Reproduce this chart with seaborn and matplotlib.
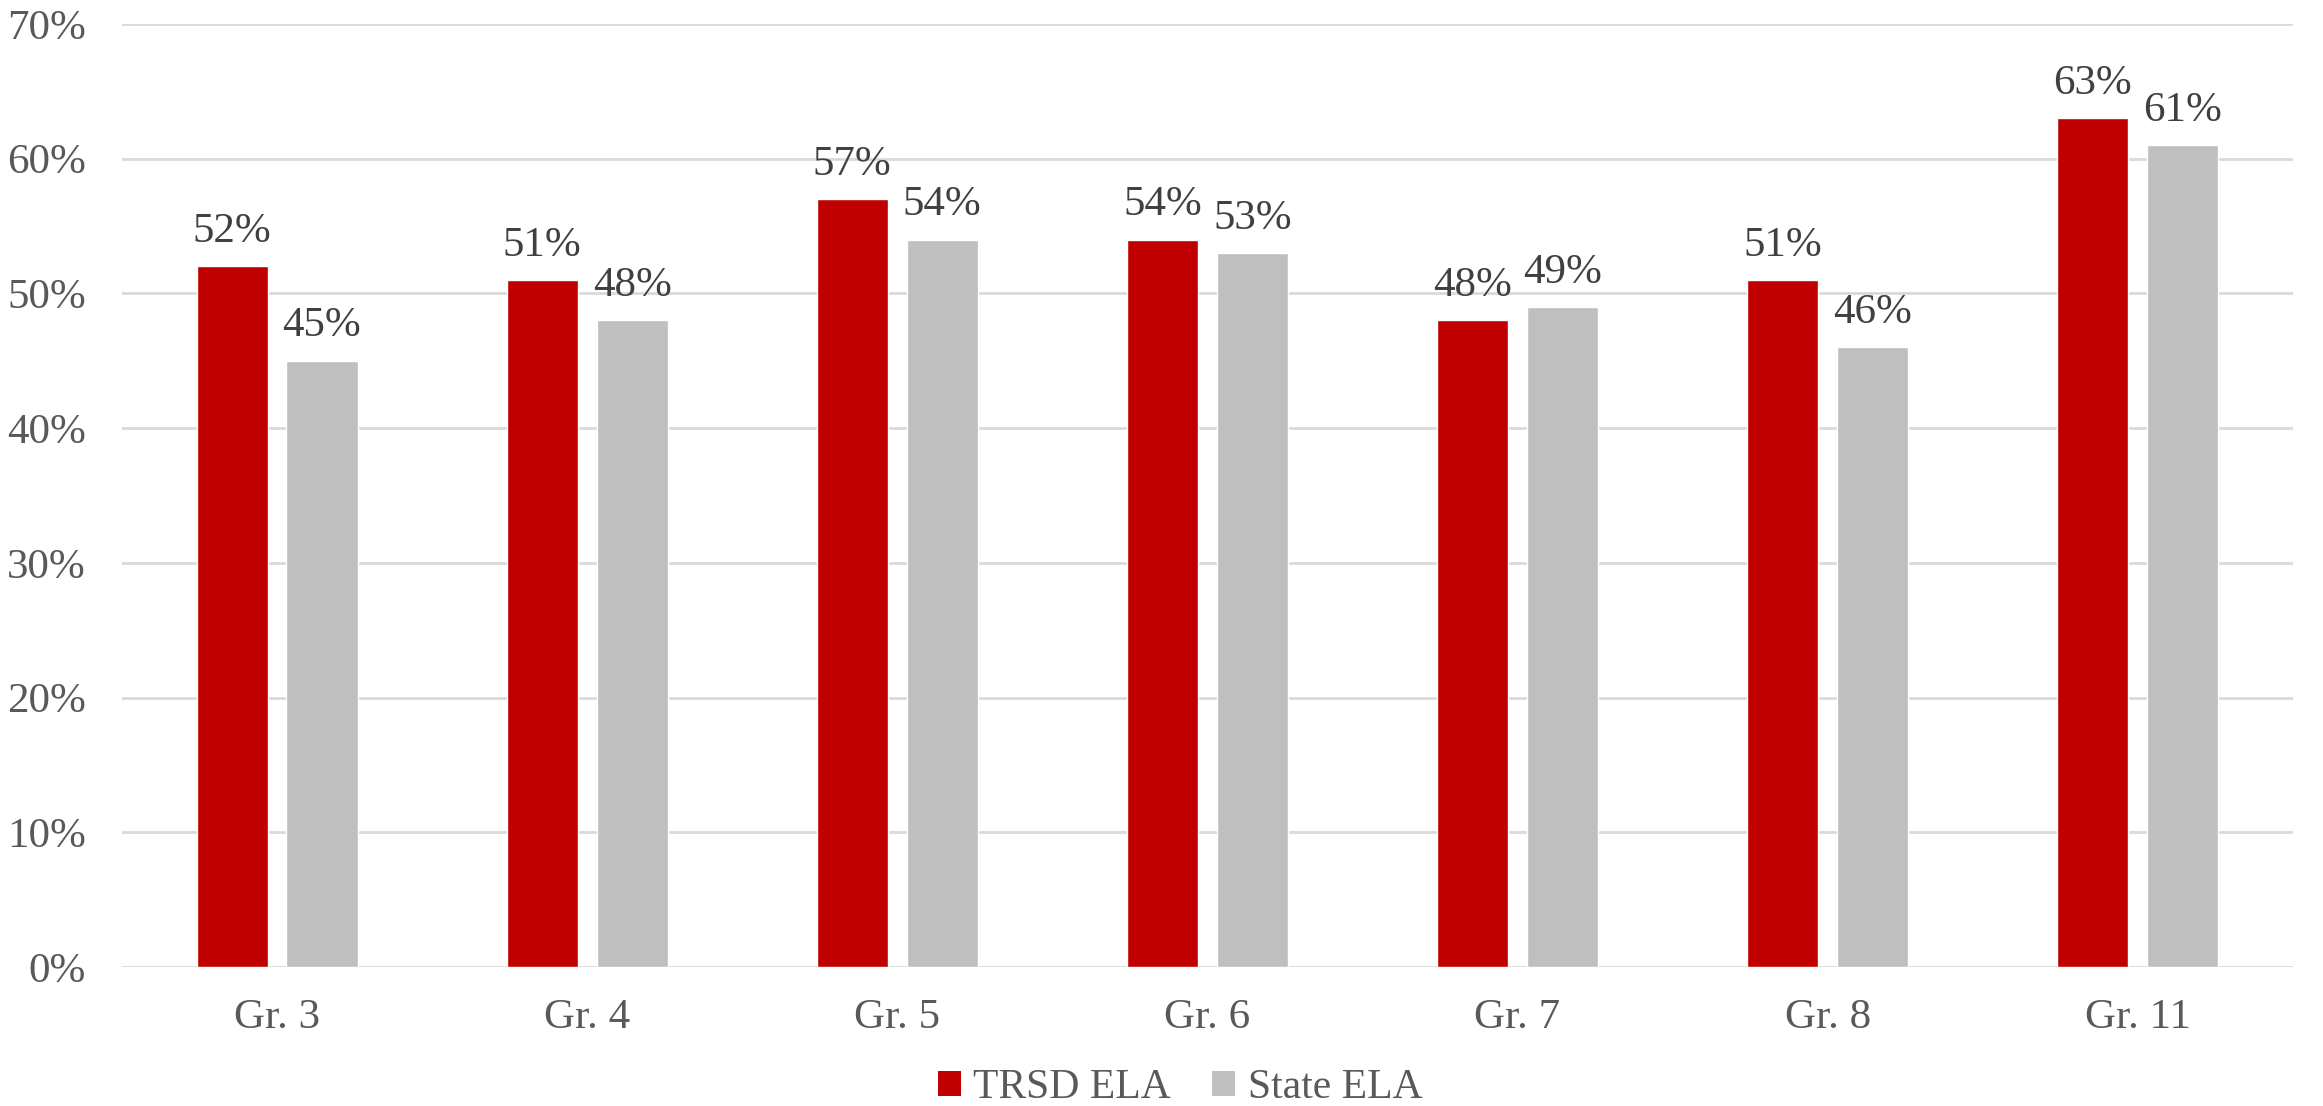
import matplotlib
matplotlib.use("Agg")
import matplotlib.pyplot as plt
import seaborn as sns
import pandas as pd
from matplotlib.patches import Patch

grades = ["Gr. 3", "Gr. 4", "Gr. 5", "Gr. 6", "Gr. 7", "Gr. 8", "Gr. 11"]
trsd_ela = [52, 51, 57, 54, 48, 51, 63]
state_ela = [45, 48, 54, 53, 49, 46, 61]
series_names = ["TRSD ELA", "State ELA"]
colors = ["#C00000", "#BFBFBF"]

df = pd.DataFrame({
    "grade": grades * 2,
    "value": trsd_ela + state_ela,
    "series": [series_names[0]] * len(grades) + [series_names[1]] * len(grades),
})

sns.set_style("white")
plt.rcParams["font.family"] = ["Liberation Serif", "DejaVu Serif"]

fig = plt.figure(figsize=(23.23, 11.06), dpi=100)
ax = fig.add_axes([0.0525, 0.1257, 0.9345, 0.8526])

sns.barplot(data=df, x="grade", y="value", hue="series", order=grades,
            hue_order=series_names, palette=colors, width=0.58, gap=0.21,
            saturation=1, legend=False, ax=ax)

ax.set_ylim(0, 70)
ax.set_xlim(-0.5, len(grades) - 0.5)
ax.set_yticks(range(0, 71, 10))
ax.set_yticklabels([f"{v}%" for v in range(0, 71, 10)])
ax.grid(axis="y", color="#D9D9D9", linewidth=2)
ax.set_axisbelow(True)
for s in ax.spines.values():
    s.set_visible(False)
ax.set_xlabel("")
ax.set_ylabel("")
ax.tick_params(axis="y", length=0, pad=26, labelsize=31, labelcolor="#595959")
ax.tick_params(axis="x", length=0, pad=23, labelsize=31, labelcolor="#595959")

for container in ax.containers:
    ax.bar_label(container, labels=[f"{int(round(b.get_height()))}%" for b in container],
                 padding=11, fontsize=31, color="#404040")

handles = [Patch(facecolor=c, edgecolor="none") for c in colors]
fig.legend(handles, series_names, loc="center", bbox_to_anchor=(0.508, 0.0165),
           ncol=2, frameon=False, fontsize=30, labelcolor="#595959",
           handlelength=0.55, handleheight=0.55, handletextpad=0.3, columnspacing=1.0)

fig.savefig("out.png", dpi=100, facecolor="white")
